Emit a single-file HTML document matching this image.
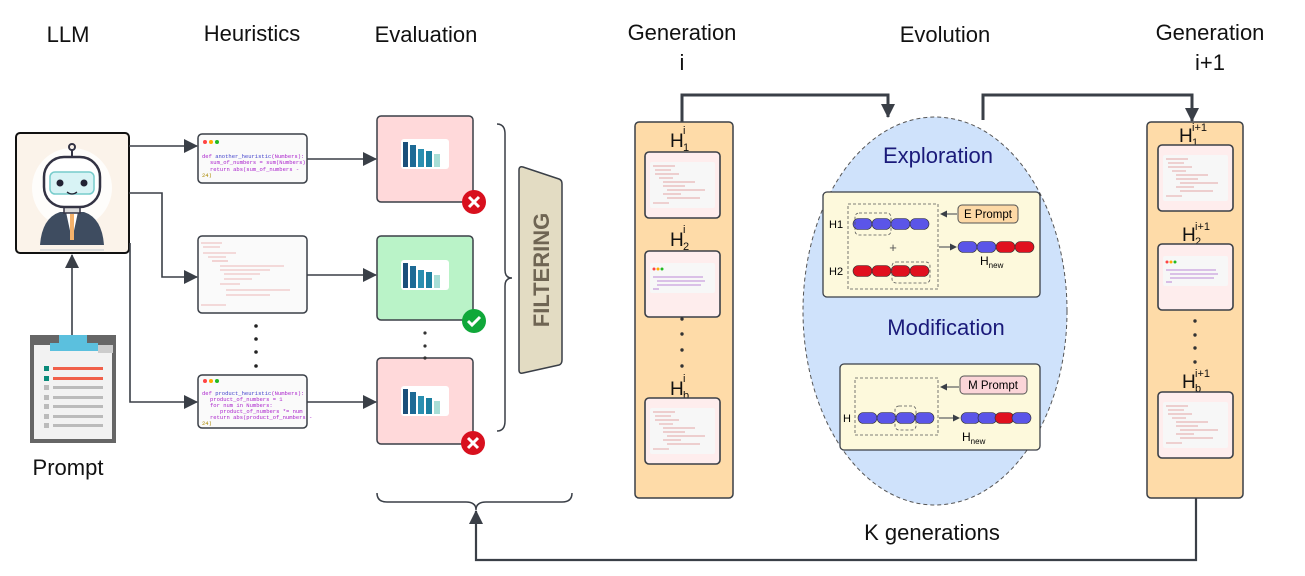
<!DOCTYPE html>
<html><head><meta charset="utf-8"><style>
html,body{margin:0;padding:0;background:#fff;}
svg{display:block;font-family:"Liberation Sans",sans-serif;}
.code{font-family:"Liberation Mono",monospace;font-size:5.5px;}
</style></head><body>
<svg width="1305" height="576" viewBox="0 0 1305 576" xmlns="http://www.w3.org/2000/svg">
<defs>
<marker id="ah" markerWidth="14" markerHeight="14" refX="13" refY="7" orient="auto" markerUnits="userSpaceOnUse"><path d="M0,0 L14,7 L0,14 z" fill="#3a3f47"/></marker>
<marker id="as" markerWidth="7" markerHeight="7" refX="6" refY="3.5" orient="auto" markerUnits="userSpaceOnUse"><path d="M0,0 L7,3.5 L0,7 z" fill="#3a3f47"/></marker>
<g id="pb"><rect x="0" y="-5.5" width="19" height="11" rx="5.5" fill="#5b55e8" stroke="#333" stroke-width="0.6"/></g>
<g id="pr"><rect x="0" y="-5.5" width="19" height="11" rx="5.5" fill="#e0101e" stroke="#333" stroke-width="0.6"/></g>
<g id="mini">
<rect x="0" y="0" width="75" height="66" rx="4" fill="#feeded" stroke="#3a3f47" stroke-width="1.6"/>
<rect x="5" y="10" width="65" height="46" rx="2" fill="#f7f7f7"/>
<g stroke="#d88" stroke-width="0.7"><line x1="8" y1="14" x2="30" y2="14"/><line x1="10" y1="18" x2="26" y2="18"/><line x1="10" y1="22" x2="34" y2="22"/><line x1="14" y1="26" x2="28" y2="26"/><line x1="18" y1="30" x2="50" y2="30"/><line x1="18" y1="34" x2="40" y2="34"/><line x1="22" y1="38" x2="60" y2="38"/><line x1="18" y1="42" x2="36" y2="42"/><line x1="22" y1="46" x2="55" y2="46"/><line x1="8" y1="51" x2="24" y2="51"/></g>
</g>
<g id="mini2">
<rect x="0" y="0" width="75" height="66" rx="4" fill="#feeded" stroke="#3a3f47" stroke-width="1.6"/>
<rect x="5" y="12" width="65" height="30" rx="2" fill="#f7f7f7"/>
<circle cx="9" cy="18" r="1.5" fill="#f44"/><circle cx="13" cy="18" r="1.5" fill="#fa0"/><circle cx="17" cy="18" r="1.5" fill="#2b2"/>
<g stroke="#a6c" stroke-width="0.8"><line x1="8" y1="26" x2="58" y2="26"/><line x1="12" y1="30" x2="60" y2="30"/><line x1="12" y1="34" x2="56" y2="34"/><line x1="8" y1="38" x2="14" y2="38"/></g>
</g>
<g id="chart">
<rect x="0" y="0" width="48" height="30" rx="3" fill="#fff"/>
<rect x="2" y="3" width="5" height="25" fill="#1b4f7a"/><rect x="9" y="6" width="6" height="22" fill="#1d6a95"/><rect x="17" y="10" width="6" height="18" fill="#2a8fb0"/><rect x="25" y="12" width="6" height="16" fill="#1b7fa0"/><rect x="33" y="15" width="6" height="13" fill="#a8ded6"/>
</g>
</defs>

<g font-size="22" fill="#111" text-anchor="middle">
<text x="68" y="42">LLM</text>
<text x="252" y="41">Heuristics</text>
<text x="426" y="42">Evaluation</text>
<text x="682" y="40">Generation</text><text x="682" y="70">i</text>
<text x="945" y="42">Evolution</text>
<text x="1210" y="40">Generation</text><text x="1210" y="70">i+1</text>
<text x="68" y="475">Prompt</text>
<text x="932" y="540">K generations</text>
</g>

<rect x="16" y="133" width="113" height="120" rx="4" fill="#fbf3ea" stroke="#111" stroke-width="2"/>
<circle cx="72" cy="188" r="40" fill="#fff" opacity="0.8"/>
<path d="M40,245 Q42,218 60,212 L84,212 Q102,218 104,245 z" fill="#3e4c60"/>
<path d="M66,212 L72,240 L78,212 z" fill="#fff"/><rect x="70" y="214" width="4" height="26" fill="#f5b26b"/>
<rect x="64" y="203" width="16" height="10" fill="#ddd" stroke="#334" stroke-width="1.5"/>
<rect x="44" y="157" width="56" height="50" rx="20" fill="#fff" stroke="#334" stroke-width="2.5"/>
<rect x="50" y="172" width="44" height="22" rx="5" fill="#d8f3f5" stroke="#7cc" stroke-width="1.5"/>
<circle cx="60" cy="183" r="3.5" fill="#223"/><circle cx="84" cy="183" r="3.5" fill="#223"/>
<path d="M67,192 Q72,196 77,192" stroke="#223" fill="none" stroke-width="1.3"/>
<line x1="72" y1="157" x2="72" y2="150" stroke="#334" stroke-width="2"/><circle cx="72" cy="147" r="3" fill="none" stroke="#334" stroke-width="2"/>
<path d="M40,250 L104,250" stroke="#ddd" stroke-width="2"/>

<rect x="30" y="335" width="86" height="108" fill="#666"/>
<rect x="34" y="345" width="78" height="94" fill="#f2f2f2"/>
<rect x="59" y="335" width="28" height="10" fill="#5bc0de"/><rect x="50" y="343" width="48" height="8" fill="#5bc0de"/>
<rect x="98" y="345" width="15" height="8" fill="#ccc"/>
<g><rect x="44" y="366" width="5" height="5" fill="#0a8a7a"/><rect x="53" y="367" width="50" height="3" fill="#f0604a"/>
<rect x="44" y="376" width="5" height="5" fill="#0a8a7a"/><rect x="53" y="377" width="50" height="3" fill="#f0604a"/>
<g fill="#bbb"><rect x="44" y="385" width="5" height="5"/><rect x="53" y="386" width="50" height="3"/>
<rect x="44" y="395" width="5" height="5"/><rect x="53" y="396" width="50" height="3"/>
<rect x="44" y="404" width="5" height="5"/><rect x="53" y="405" width="50" height="3"/>
<rect x="44" y="414" width="5" height="5"/><rect x="53" y="415" width="50" height="3"/>
<rect x="44" y="423" width="5" height="5"/><rect x="53" y="424" width="50" height="3"/></g></g>

<g stroke="#3a3f47" stroke-width="1.6" fill="none">
<line x1="72" y1="335" x2="72" y2="255" marker-end="url(#ah)"/>
<line x1="129" y1="146" x2="197" y2="146" marker-end="url(#ah)"/>
<path d="M129,193 L162,193 L162,277 L197,277" marker-end="url(#ah)"/>
<path d="M130,243 L130,402 L197,402" marker-end="url(#ah)"/>
<line x1="307" y1="159" x2="376" y2="159" marker-end="url(#ah)"/>
<line x1="307" y1="275" x2="376" y2="275" marker-end="url(#ah)"/>
<line x1="307" y1="402" x2="376" y2="402" marker-end="url(#ah)"/>
</g>

<rect x="198" y="134" width="109" height="49" rx="4" fill="#fafafa" stroke="#3a3f47" stroke-width="1.5"/>
<circle cx="205" cy="142" r="2" fill="#f44"/><circle cx="211" cy="142" r="2" fill="#fa0"/><circle cx="217" cy="142" r="2" fill="#2b2"/>
<text class="code" fill="#a2c"><tspan x="202" y="158">def <tspan fill="#44c">another_heuristic</tspan>(Numbers):</tspan><tspan x="210" y="164">sum_of_numbers = sum(Numbers)</tspan><tspan x="210" y="171">return abs(sum_of_numbers -</tspan><tspan x="202" y="177" fill="#a80">24)</tspan></text>

<rect x="198" y="236" width="109" height="77" rx="4" fill="#fafafa" stroke="#3a3f47" stroke-width="1.5"/>
<g stroke="#d77" stroke-width="0.6"><line x1="201" y1="243" x2="222" y2="243"/><line x1="203" y1="247" x2="220" y2="247"/><line x1="203" y1="253" x2="236" y2="253"/><line x1="208" y1="257" x2="226" y2="257"/><line x1="212" y1="261" x2="228" y2="261"/><line x1="220" y1="266" x2="284" y2="266"/><line x1="220" y1="270" x2="270" y2="270"/><line x1="224" y1="274" x2="260" y2="274"/><line x1="224" y1="279" x2="252" y2="279"/><line x1="220" y1="284" x2="240" y2="284"/><line x1="226" y1="290" x2="290" y2="290"/><line x1="226" y1="295" x2="270" y2="295"/><line x1="201" y1="305" x2="226" y2="305"/></g>

<g fill="#222"><circle cx="256" cy="326" r="1.8"/><circle cx="256" cy="339" r="1.8"/><circle cx="256" cy="352" r="1.8"/><circle cx="256" cy="366" r="1.8"/></g>

<rect x="198" y="375" width="109" height="53" rx="4" fill="#fafafa" stroke="#3a3f47" stroke-width="1.5"/>
<circle cx="205" cy="381" r="2" fill="#f44"/><circle cx="211" cy="381" r="2" fill="#fa0"/><circle cx="217" cy="381" r="2" fill="#2b2"/>
<text class="code" fill="#a2c"><tspan x="202" y="395">def <tspan fill="#44c">product_heuristic</tspan>(Numbers):</tspan><tspan x="210" y="401">product_of_numbers = 1</tspan><tspan x="210" y="407">for num in Numbers:</tspan><tspan x="220" y="413">product_of_numbers *= num</tspan><tspan x="210" y="419">return abs(product_of_numbers -</tspan><tspan x="202" y="425" fill="#a80">24)</tspan></text>

<rect x="377" y="116" width="96" height="86" rx="4" fill="#ffd9da" stroke="#3a3f47" stroke-width="1.5"/>
<use href="#chart" x="401" y="139"/>
<rect x="377" y="236" width="96" height="84" rx="4" fill="#baf3c8" stroke="#3a3f47" stroke-width="1.5"/>
<use href="#chart" x="401" y="260"/>
<rect x="377" y="358" width="96" height="86" rx="4" fill="#ffd9da" stroke="#3a3f47" stroke-width="1.5"/>
<use href="#chart" x="401" y="386"/>
<g fill="#333"><circle cx="425" cy="333" r="1.6"/><circle cx="425" cy="346" r="1.6"/><circle cx="425" cy="358" r="1.6"/></g>
<circle cx="474" cy="202" r="12" fill="#d8101e"/><path d="M469,197 L479,207 M479,197 L469,207" stroke="#fff" stroke-width="3"/>
<circle cx="474" cy="321" r="12" fill="#10a83a"/><path d="M468,321 L472,325 L480,317" stroke="#fff" stroke-width="3" fill="none"/>
<circle cx="473" cy="443" r="12" fill="#d8101e"/><path d="M468,438 L478,448 M478,438 L468,448" stroke="#fff" stroke-width="3"/>

<path d="M497,124 Q505,124 505,134 L505,270 Q505,278 512,278 Q505,278 505,286 L505,421 Q505,431 497,431" fill="none" stroke="#3a3f47" stroke-width="1.5"/>
<path d="M377,493 Q377,502 387,502 L466,502 Q476,502 476,510 Q476,502 486,502 L562,502 Q572,502 572,493" fill="none" stroke="#3a3f47" stroke-width="1.5"/>
<path d="M519,170 Q519,166 523,167 L559,179 Q562,180 562,184 L562,360 Q562,364 559,365 L523,373 Q519,374 519,370 z" fill="#e3dcc3" stroke="#3a3f47" stroke-width="1.5"/>
<text transform="translate(549,270) rotate(-90)" text-anchor="middle" font-size="22" font-weight="bold" fill="#6f6553">FILTERING</text>

<path d="M1196,498 L1196,560 L476,560 L476,511" fill="none" stroke="#3a3f47" stroke-width="2.2" marker-end="url(#ah)"/>

<path d="M682,122 L682,95 L888,95 L888,117" fill="none" stroke="#3a3f47" stroke-width="3" marker-end="url(#ah)"/>
<path d="M983,120 L983,95 L1192,95 L1192,121" fill="none" stroke="#3a3f47" stroke-width="3" marker-end="url(#ah)"/>

<rect x="635" y="122" width="98" height="376" rx="4" fill="#fedba8" stroke="#3a3f47" stroke-width="1.5"/>
<g font-size="19" fill="#111">
<text x="670" y="147">H</text><text x="683" y="134" font-size="11">i</text><text x="683" y="151" font-size="11">1</text>
<text x="670" y="246">H</text><text x="683" y="233" font-size="11">i</text><text x="683" y="250" font-size="11">2</text>
<text x="670" y="395">H</text><text x="683" y="382" font-size="11">i</text><text x="683" y="399" font-size="11">b</text>
</g>
<use href="#mini" x="645" y="152"/><use href="#mini2" x="645" y="251"/><use href="#mini" x="645" y="398"/>
<g fill="#333"><circle cx="682" cy="319" r="1.7"/><circle cx="682" cy="334" r="1.7"/><circle cx="682" cy="350" r="1.7"/><circle cx="682" cy="366" r="1.7"/></g>

<rect x="1147" y="122" width="96" height="376" rx="4" fill="#fedba8" stroke="#3a3f47" stroke-width="1.5"/>
<g font-size="19" fill="#111">
<text x="1179" y="142">H</text><text x="1192" y="131" font-size="11">i+1</text><text x="1192" y="146" font-size="11">1</text>
<text x="1182" y="241">H</text><text x="1195" y="230" font-size="11">i+1</text><text x="1195" y="245" font-size="11">2</text>
<text x="1182" y="388">H</text><text x="1195" y="377" font-size="11">i+1</text><text x="1195" y="392" font-size="11">b</text>
</g>
<use href="#mini" x="1158" y="145"/><use href="#mini2" x="1158" y="244"/><use href="#mini" x="1158" y="392"/>
<g fill="#333"><circle cx="1195" cy="321" r="1.7"/><circle cx="1195" cy="335" r="1.7"/><circle cx="1195" cy="348" r="1.7"/><circle cx="1195" cy="362" r="1.7"/></g>

<ellipse cx="935" cy="311" rx="132" ry="194" fill="#cfe2fb" stroke="#555" stroke-width="1" stroke-dasharray="4,3"/>
<text x="938" y="163" text-anchor="middle" font-size="22" fill="#1a1a7a">Exploration</text>
<text x="946" y="335" text-anchor="middle" font-size="22" fill="#1a1a7a">Modification</text>

<rect x="823" y="192" width="217" height="105" rx="4" fill="#fdf9dc" stroke="#3a3f47" stroke-width="1.3"/>
<rect x="848" y="204" width="90" height="85" fill="none" stroke="#555" stroke-dasharray="3,2" stroke-width="0.8"/>
<text x="829" y="228" font-size="11">H1</text><text x="829" y="275" font-size="11">H2</text>
<use href="#pb" x="853" y="224"/><use href="#pb" x="872" y="224"/><use href="#pb" x="891" y="224"/><use href="#pb" x="910" y="224"/>
<use href="#pr" x="853" y="271"/><use href="#pr" x="872" y="271"/><use href="#pr" x="891" y="271"/><use href="#pr" x="910" y="271"/>
<rect x="855" y="213" width="36" height="22" rx="4" fill="none" stroke="#555" stroke-dasharray="3,2" stroke-width="0.8"/>
<rect x="892" y="262" width="38" height="21" rx="4" fill="none" stroke="#555" stroke-dasharray="3,2" stroke-width="0.8"/>
<text x="893" y="252" font-size="13" text-anchor="middle" fill="#555">+</text>
<rect x="958" y="205" width="60" height="18" rx="4" fill="#fdd9a6" stroke="#555" stroke-width="1"/>
<text x="988" y="218" text-anchor="middle" font-size="11.5">E Prompt</text>
<line x1="957" y1="214" x2="941" y2="214" stroke="#3a3f47" stroke-width="1" marker-end="url(#as)"/>
<line x1="939" y1="247" x2="956" y2="247" stroke="#3a3f47" stroke-width="1" marker-end="url(#as)"/>
<use href="#pb" x="958" y="247"/><use href="#pb" x="977" y="247"/><use href="#pr" x="996" y="247"/><use href="#pr" x="1015" y="247"/>
<text x="980" y="265" font-size="12">H<tspan font-size="8" dy="3">new</tspan></text>

<rect x="840" y="364" width="200" height="86" rx="4" fill="#fdf9dc" stroke="#3a3f47" stroke-width="1.3"/>
<rect x="855" y="378" width="83" height="57" fill="none" stroke="#555" stroke-dasharray="3,2" stroke-width="0.8"/>
<text x="843" y="422" font-size="11">H</text>
<use href="#pb" x="858" y="418"/><use href="#pb" x="877" y="418"/><use href="#pb" x="896" y="418"/><use href="#pb" x="915" y="418"/>
<rect x="895" y="406" width="21" height="24" rx="4" fill="none" stroke="#555" stroke-dasharray="3,2" stroke-width="0.8"/>
<rect x="960" y="376" width="67" height="18" rx="4" fill="#fbd5d8" stroke="#555" stroke-width="1"/>
<text x="993" y="389" text-anchor="middle" font-size="11.5">M Prompt</text>
<line x1="959" y1="387" x2="941" y2="387" stroke="#3a3f47" stroke-width="1" marker-end="url(#as)"/>
<line x1="939" y1="418" x2="959" y2="418" stroke="#3a3f47" stroke-width="1" marker-end="url(#as)"/>
<use href="#pb" x="961" y="418"/><use href="#pb" x="978" y="418"/><use href="#pr" x="995" y="418"/><use href="#pb" x="1012" y="418"/>
<text x="962" y="441" font-size="12">H<tspan font-size="8" dy="3">new</tspan></text>
</svg>
</body></html>
